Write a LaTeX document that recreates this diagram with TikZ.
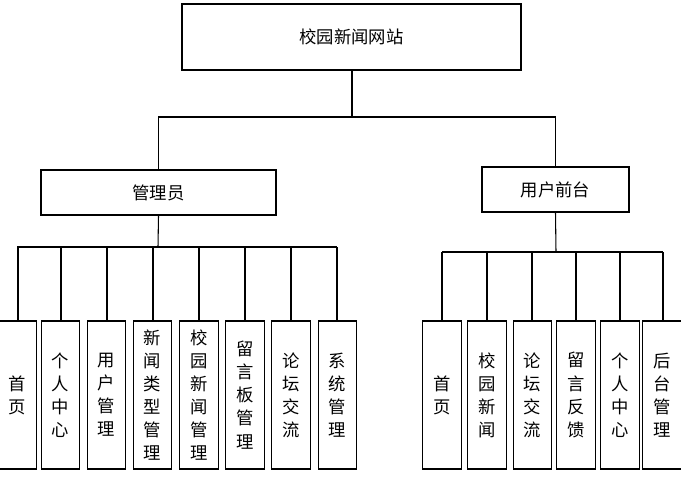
\documentclass[tikz,border=0pt]{standalone}
\usepackage{fontspec}
\newfontfamily\cjk{Noto Sans CJK SC}
\begin{document}
\begin{tikzpicture}[x=0.75pt,y=-0.75pt,
  box/.style={draw,line width=0.8pt,inner sep=0pt,font=\cjk\fontsize{13}{17.3}\selectfont,align=center},
  ln/.style={line width=0.8pt}]
\useasboundingbox (0,0) rectangle (681,494);
\begin{scope}
\clip (0,0) rectangle (681,494);
\node[box,minimum width=339*0.75pt,minimum height=66*0.75pt] (top) at (351.5,37) {校园新闻网站};
\node[box,minimum width=235*0.75pt,minimum height=45*0.75pt] (adm) at (158.5,192.5) {管理员};
\node[box,minimum width=147*0.75pt,minimum height=45*0.75pt] (usr) at (555.5,189.5) {用户前台};
\foreach \n/\cx/\t in {a1/17/首\\页, a2/60.5/个\\人\\中\\心, a3/106.5/用\\户\\管\\理, a4/152.5/新\\闻\\类\\型\\管\\理, a5/199/校\\园\\新\\闻\\管\\理, a6/245/留\\言\\板\\管\\理, a7/291/论\\坛\\交\\流, a8/337.5/系\\统\\管\\理,
  b1/442/首\\页, b2/487/校\\园\\新\\闻, b3/532.5/论\\坛\\交\\流, b4/576/留\\言\\反\\馈, b5/620/个\\人\\中\\心, b6/662/后\\台\\管\\理}
  \node[box,minimum width=38.5*0.75pt,minimum height=148*0.75pt] (\n) at (\cx,395) {\t};
\coordinate (j1) at (352,117);
\draw[ln] (top.south -| j1) -- (j1);
\draw[ln] (adm.north) |- (j1) -| (usr.north);
\coordinate (ja) at (158,247);
\draw[ln] (adm.south) -- (ja);
\draw[ln] (a1.north -| 18,0) -- (18,247) -- (337,247);
\foreach \n/\x in {a2/61,a3/107,a4/153,a5/199,a6/245,a7/291,a8/337}
  \draw[ln] (\n.north -| \x,0) -- (\x,247);
\coordinate (jb) at (556,252);
\draw[ln] (usr.south) -- (jb);
\draw[ln] (442,252) -- (663,252);
\foreach \n/\x in {b1/442,b2/487,b3/532,b4/576,b5/620,b6/663}
  \draw[ln] (\n.north -| \x,0) -- (\x,252);
\end{scope}
\end{tikzpicture}
\end{document}
